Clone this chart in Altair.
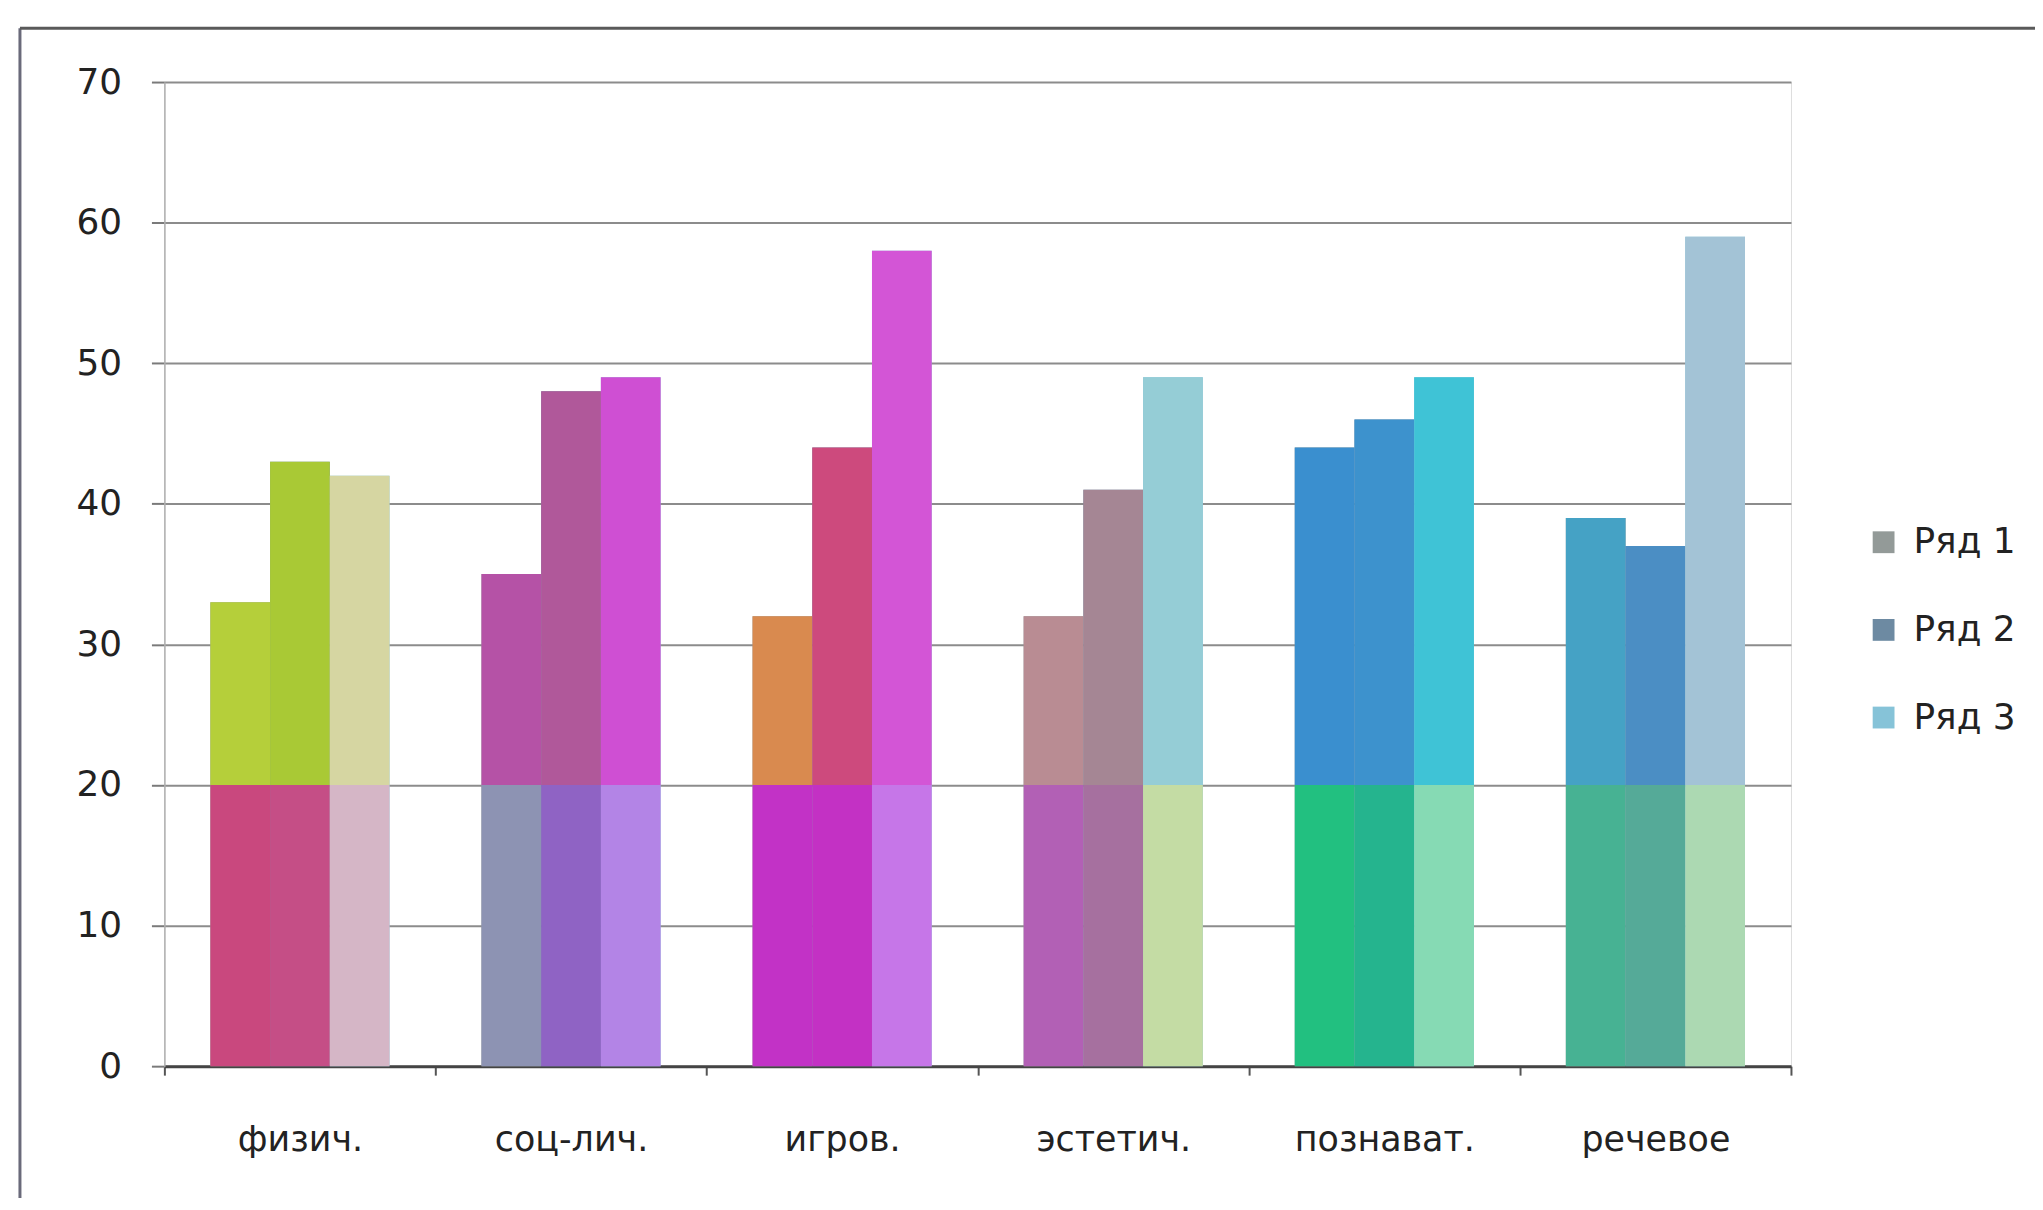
import altair as alt
import pandas as pd

CATEGORIES = ["физич.", "соц-лич.", "игров.", "эстетич.", "познават.", "речевое"]
SERIES = ["Ряд 1", "Ряд 2", "Ряд 3"]
ROW1 = [33, 35, 32, 32, 44, 39]
ROW2 = [43, 48, 44, 41, 46, 37]
ROW3 = [42, 49, 58, 49, 49, 59]
Y_TICKS = [0, 10, 20, 30, 40, 50, 60, 70]

# styles (kept apart from the data)
LEGEND_COLORS = ["#939a98", "#6d8aa2", "#86c3d8"]
SPLIT = 20
LOWER = [
    ["#c9487e", "#c54e86", "#d5b6c6"],
    ["#8d93b3", "#8f63c4", "#b384e6"],
    ["#c232c6", "#c331c4", "#c676e8"],
    ["#b260b5", "#a6709f", "#c4dca4"],
    ["#22c080", "#25b48e", "#86dab4"],
    ["#47b293", "#55aa98", "#acd9b2"],
]
UPPER = [
    ["#b5cf3a", "#a9c935", "#d6d6a2"],
    ["#b552a6", "#b0589a", "#cf4fd3"],
    ["#d98a4f", "#cd4a7d", "#d355d6"],
    ["#b98c93", "#a58694", "#95cdd6"],
    ["#3a8fcf", "#3d92cd", "#3fc3d6"],
    ["#45a2c5", "#4b8ec4", "#a3c3d6"],
]

values = [ROW1, ROW2, ROW3]
bars = []
segs = []
for ci, cat in enumerate(CATEGORIES):
    for si, s in enumerate(SERIES):
        v = values[si][ci]
        bars.append({"cat": cat, "series": s, "y0": 0, "y1": v})
        segs.append({"cat": cat, "series": s, "y0": 0, "y1": min(v, SPLIT), "fill": LOWER[ci][si]})
        if v > SPLIT:
            segs.append({"cat": cat, "series": s, "y0": SPLIT, "y1": v, "fill": UPPER[ci][si]})
bars_df = pd.DataFrame(bars)
segs_df = pd.DataFrame(segs)

FONT = "DejaVu Sans"

x_enc = alt.X(
    "cat:N",
    sort=CATEGORIES,
    title=None,
    scale=alt.Scale(paddingInner=0, paddingOuter=0),
    axis=alt.Axis(
        labelAngle=0,
        labelFont=FONT,
        labelFontSize=35,
        labelColor="#222222",
        labelPadding=48,
        labelLimit=0,
        tickBand="extent",
        tickSize=9,
        tickColor="#555555",
        tickWidth=2,
        domainColor="#444444",
        domainWidth=3,
        grid=False,
    ),
)
xoff_enc = alt.XOffset("series:N", sort=SERIES, scale=alt.Scale(paddingInner=0, paddingOuter=0.77))
y_enc = alt.Y(
    "y0:Q",
    title=None,
    scale=alt.Scale(domain=[0, 70], nice=False),
    axis=alt.Axis(
        values=Y_TICKS,
        labelFont=FONT,
        labelFontSize=36,
        labelColor="#222222",
        labelPadding=30,
        tickSize=13,
        tickColor="#7a7a7a",
        tickWidth=2,
        domainColor="#b0b0b0",
        domainWidth=1.5,
        gridColor="#8c8c8c",
        gridWidth=2,
    ),
)

base = alt.Chart(bars_df).mark_bar(strokeWidth=0).encode(
    x=x_enc,
    xOffset=xoff_enc,
    y=y_enc,
    y2="y1:Q",
    color=alt.Color(
        "series:N",
        sort=SERIES,
        scale=alt.Scale(domain=SERIES, range=LEGEND_COLORS),
        legend=alt.Legend(
            title=None,
            orient="none",
            legendX=1708,
            legendY=444,
            symbolType="square",
            symbolSize=480,
            symbolStrokeWidth=0,
            labelFont=FONT,
            labelFontSize=36,
            labelColor="#222222",
            labelOffset=12,
            rowPadding=52,
        ),
    ),
)

colored = alt.Chart(segs_df).mark_bar(strokeWidth=0).encode(
    x=x_enc,
    xOffset=xoff_enc,
    y=y_enc,
    y2="y1:Q",
    fill=alt.Fill("fill:N", scale=None),
)

frame_df = pd.DataFrame({"k": [0]})
frame_left = alt.Chart(frame_df).mark_rule(color="#6a6a7a", strokeWidth=3).encode(
    x=alt.value(-145), y=alt.value(-54), y2=alt.value(1200)
)
frame_top = alt.Chart(frame_df).mark_rule(color="#5a5a5a", strokeWidth=3).encode(
    x=alt.value(-145), x2=alt.value(1900), y=alt.value(-54)
)

chart = (
    alt.layer(base, colored, frame_left, frame_top)
    .properties(
        width=1633,
        height=988,
        padding={"left": 157, "top": 72, "right": 245, "bottom": 130},
        autosize=alt.AutoSizeParams(type="none"),
    )
    .configure_view(stroke=None)
    .configure(background="#ffffff")
)

chart.save("out.html", embed_options={"renderer": "svg", "actions": False})
